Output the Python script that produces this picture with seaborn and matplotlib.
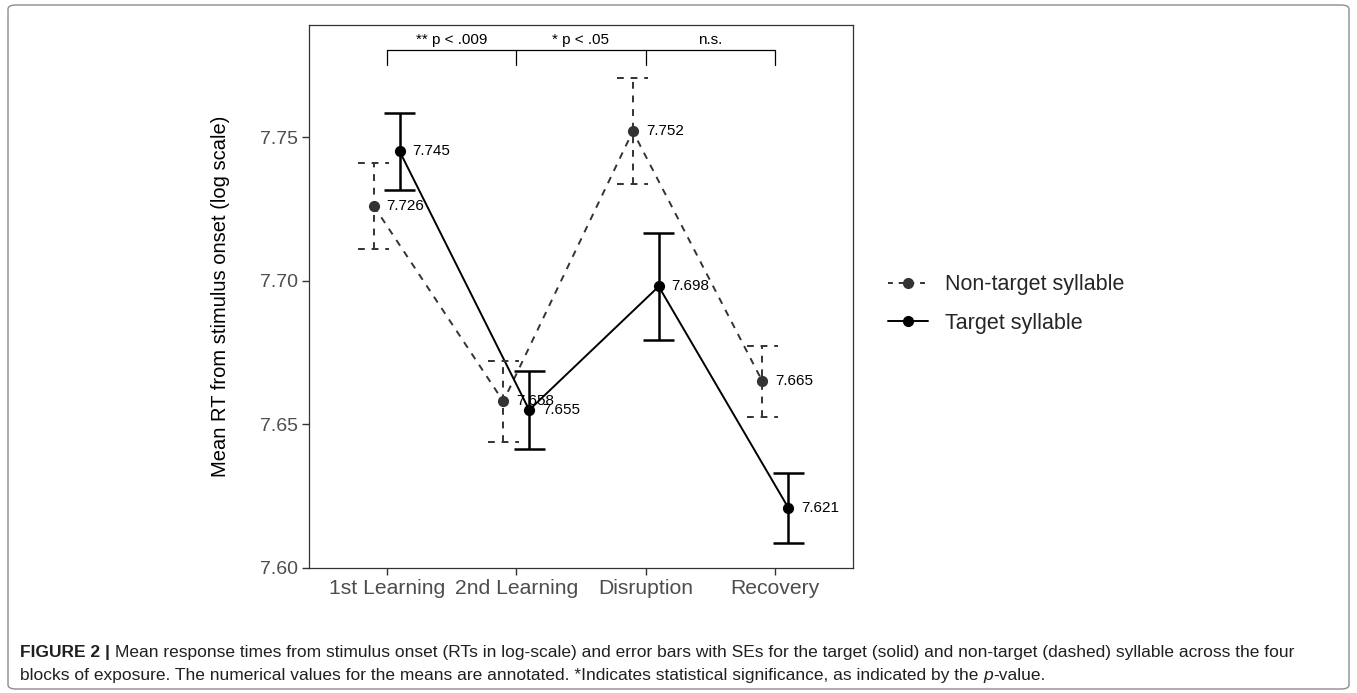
import matplotlib
matplotlib.use('Agg')
import matplotlib.pyplot as plt
import numpy as np
import pandas as pd
import seaborn as sns
from matplotlib.lines import Line2D
from matplotlib.patches import FancyBboxPatch

blocks = ['1st Learning', '2nd Learning', 'Disruption', 'Recovery']
groups = ['Non-target syllable', 'Target syllable']
nontarget_mean = [7.726, 7.658, 7.752, 7.665]
nontarget_se = [0.0148, 0.0140, 0.0185, 0.0123]
target_mean = [7.745, 7.655, 7.698, 7.621]
target_se = [0.0135, 0.0136, 0.0185, 0.0122]
sig_labels = ['** p < .009', '* p < .05', 'n.s.']
yticks = [7.60, 7.65, 7.70, 7.75]

df = pd.DataFrame({
    'Block': blocks * 2,
    'Group': [groups[0]] * 4 + [groups[1]] * 4,
    'Mean': nontarget_mean + target_mean,
    'SE': nontarget_se + target_se,
})

sns.set_style('white')
plt.rcParams['font.family'] = ['Liberation Sans', 'DejaVu Sans']

fig = plt.figure(figsize=(13.57, 6.93), dpi=100)
ax = fig.add_axes([309 / 1357, 1 - 568 / 693, 544 / 1357, 543 / 693])

colors = {groups[0]: '#333333', groups[1]: 'black'}
dash = (0, (3.5, 3.5))
styles = {groups[0]: dash, groups[1]: '-'}

sns.pointplot(data=df, x='Block', y='Mean', hue='Group', order=blocks, hue_order=groups,
              palette=colors, linestyles=['--', '-'], markers=['o', 'o'], dodge=0.2,
              errorbar=None, legend=False, ax=ax, linewidth=1.4, markersize=7)
for ln in ax.lines:
    if ln.get_linestyle() == '--':
        ln.set_linestyle(dash)

# error bars and value labels
offsets = {groups[0]: -0.1, groups[1]: 0.1}
for g in groups:
    sub = df[df['Group'] == g]
    xs = np.arange(len(blocks)) + offsets[g]
    lo = sub['Mean'].values - sub['SE'].values
    hi = sub['Mean'].values + sub['SE'].values
    lw = 1.4 if g == groups[0] else 1.8
    ax.vlines(xs, lo, hi, colors=colors[g], linestyles=styles[g], lw=lw, zorder=2)
    ax.hlines(lo, xs - 0.12, xs + 0.12, colors=colors[g], linestyles=styles[g], lw=lw, zorder=2)
    ax.hlines(hi, xs - 0.12, xs + 0.12, colors=colors[g], linestyles=styles[g], lw=lw, zorder=2)
    for x, m in zip(xs, sub['Mean'].values):
        ax.text(x + 0.1, m, f'{m:.3f}', ha='left', va='center', fontsize=11, color='black', zorder=5)

# significance brackets
yb, ytk = 7.7803, 7.775
ax.plot([0, 3], [yb, yb], color='black', lw=0.9)
for i in range(4):
    ax.plot([i, i], [yb, ytk], color='black', lw=0.9)
for i, s in enumerate(sig_labels):
    ax.text(i + 0.5, yb + 0.0012, s, ha='center', va='bottom', fontsize=11, color='black')

ax.set_xlim(-0.6, 3.6)
ax.set_ylim(7.60, 7.789)
ax.set_yticks(yticks)
ax.set_yticklabels([f'{t:.2f}' for t in yticks])
ax.set_xlabel('')
ax.set_ylabel('Mean RT from stimulus onset (log scale)', fontsize=14.5, color='black')
ax.yaxis.set_label_coords(-0.146, 0.5)
ax.tick_params(axis='both', labelcolor='#4D4D4D', color='#333333',
               length=5, width=1, left=True, bottom=True, pad=3)
ax.tick_params(axis='y', labelsize=14)
ax.tick_params(axis='x', labelsize=15.2)
for sp in ax.spines.values():
    sp.set_color('#333333')
    sp.set_linewidth(0.9)

handles = [Line2D([], [], color='#333333', ls=(0, (2.5, 3)), lw=1.4, marker='o', markersize=7),
           Line2D([], [], color='black', ls='-', lw=1.4, marker='o', markersize=7)]
fig.legend(handles, groups, loc='center left', bbox_to_anchor=(869 / 1357, 1 - 304 / 693),
           frameon=False, fontsize=15.5, handlelength=1.85, handletextpad=0.8,
           labelspacing=0.8)

# outer frame
fig.patches.append(FancyBboxPatch((8 / 1357, 4 / 693), 1341 / 1357, 684 / 693,
                                  boxstyle='round,pad=0,rounding_size=0.006',
                                  transform=fig.transFigure, fill=False,
                                  edgecolor='#8C8C8C', lw=1.0))

# caption, written in pieces
cap_font = ['Liberation Sans', 'DejaVu Sans']
renderer = fig.canvas.get_renderer()


def write_line(pieces, x0, y0):
    x = x0
    for txt, kw in pieces:
        t = fig.text(x, y0, txt, fontsize=12.5, family=cap_font, color='#231F20',
                     va='baseline', ha='left', **kw)
        bb = t.get_window_extent(renderer=renderer)
        x = (bb.x1) / fig.bbox.width


write_line([('FIGURE 2 | ', {'weight': 'bold'}),
            ('Mean response times from stimulus onset (RTs in log-scale) and error bars with SEs '
             'for the target (solid) and non-target (dashed) syllable across the four', {})],
           20 / 1357, 1 - 657 / 693)
write_line([('blocks of exposure. The numerical values for the means are annotated. *Indicates '
             'statistical significance, as indicated by the ', {}),
            ('p', {'style': 'italic'}),
            ('-value.', {})],
           20 / 1357, 1 - 680 / 693)

fig.savefig('out.png', dpi=100)
